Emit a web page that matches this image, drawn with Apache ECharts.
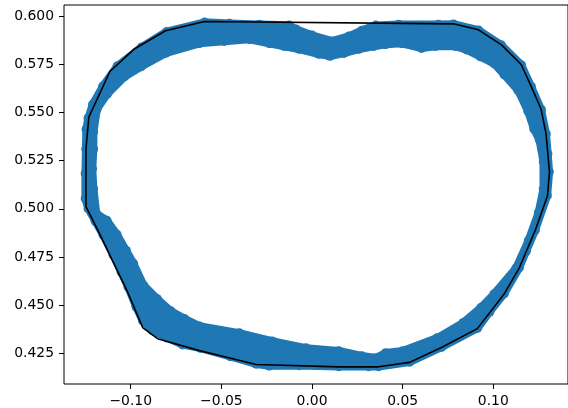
<!DOCTYPE html>
<html>
<head>
<meta charset="utf-8">
<script src="https://cdn.jsdelivr.net/npm/echarts@6/dist/echarts.min.js"></script>
<style>
  html, body { margin: 0; padding: 0; background: #fff; }
  #chart { width: 568px; height: 408px; }
</style>
</head>
<body>
<div id="chart"></div>
<script>
// Outer edge of the point cloud, clockwise from the left side
const outerEdge = [
  [-0.1250,0.5053],[-0.1250,0.5182],[-0.1247,0.5310],[-0.1245,0.5413],[-0.1234,0.5470],
  [-0.1209,0.5542],[-0.1154,0.5635],[-0.1074,0.5740],[-0.0940,0.5838],[-0.0802,0.5918],
  [-0.0593,0.5967],[-0.0456,0.5961],[-0.0291,0.5956],[-0.0126,0.5951],[-0.0088,0.5931],
  [0.0000,0.5900],[0.0110,0.5869],[0.0203,0.5894],[0.0275,0.5925],[0.0352,0.5951],
  [0.0478,0.5956],[0.0698,0.5956],[0.0780,0.5957],[0.0918,0.5926],[0.1044,0.5849],
  [0.1154,0.5746],[0.1209,0.5633],[0.1264,0.5514],[0.1291,0.5388],[0.1300,0.5285],
  [0.1308,0.5192],[0.1297,0.5068],[0.1231,0.4890],[0.1181,0.4780],[0.1143,0.4695],
  [0.1060,0.4561],[0.0980,0.4466],[0.0912,0.4381],[0.0714,0.4283],[0.0538,0.4206],
  [0.0368,0.4183],[0.0313,0.4183],[0.0148,0.4183],[-0.0071,0.4188],[-0.0236,0.4186],
  [-0.0308,0.4196],[-0.0451,0.4235],[-0.0615,0.4278],[-0.0714,0.4296],[-0.0802,0.4332],
  [-0.0879,0.4368],[-0.0934,0.4420],[-0.0970,0.4492],[-0.1014,0.4595],[-0.1052,0.4672],
  [-0.1096,0.4760],[-0.1151,0.4863],[-0.1195,0.4935],[-0.1234,0.5001]
];

// Inner edge of the point cloud, same direction
const innerEdge = [
  [-0.1190,0.4976],[-0.1206,0.5104],[-0.1212,0.5207],[-0.1206,0.5310],[-0.1206,0.5398],
  [-0.1187,0.5516],[-0.1129,0.5596],[-0.1033,0.5686],[-0.0942,0.5738],[-0.0808,0.5807],
  [-0.0621,0.5858],[-0.0484,0.5869],[-0.0346,0.5879],[-0.0236,0.5858],[-0.0154,0.5843],
  [-0.0071,0.5828],[0.0038,0.5802],[0.0099,0.5792],[0.0176,0.5807],[0.0258,0.5828],
  [0.0341,0.5843],[0.0407,0.5853],[0.0495,0.5858],[0.0604,0.5833],[0.0681,0.5843],
  [0.0791,0.5843],[0.0852,0.5825],[0.0929,0.5789],[0.1005,0.5753],[0.1060,0.5696],
  [0.1137,0.5614],[0.1192,0.5506],[0.1225,0.5413],[0.1255,0.5357],[0.1277,0.5243],
  [0.1277,0.5104],[0.1250,0.4981],[0.1195,0.4837],[0.1126,0.4693],[0.1005,0.4559],
  [0.0931,0.4487],[0.0835,0.4410],[0.0690,0.4330],[0.0500,0.4263],[0.0407,0.4253],
  [0.0352,0.4227],[0.0275,0.4237],[0.0148,0.4263],[-0.0033,0.4278],[-0.0220,0.4314],
  [-0.0401,0.4356],[-0.0621,0.4392],[-0.0703,0.4430],[-0.0780,0.4471],[-0.0854,0.4533],
  [-0.0929,0.4603],[-0.0986,0.4718],[-0.1025,0.4783],[-0.1077,0.4868],[-0.1132,0.4940]
];

// Convex hull vertices
const hullPoints = [
  [-0.0808,0.5923],[-0.0593,0.5971],[0.0780,0.5959],[0.0918,0.5928],[0.1044,0.5851],
  [0.1154,0.5748],[0.1209,0.5635],[0.1264,0.5516],[0.1291,0.5388],[0.1310,0.5192],
  [0.1299,0.5068],[0.1231,0.4888],[0.1143,0.4693],[0.1060,0.4559],[0.0912,0.4379],
  [0.0714,0.4281],[0.0538,0.4204],[0.0368,0.4181],[0.0148,0.4181],[-0.0308,0.4193],
  [-0.0621,0.4265],[-0.0852,0.4327],[-0.0934,0.4384],[-0.1022,0.4579],[-0.1181,0.4888],
  [-0.1247,0.5012],[-0.1247,0.5310],[-0.1231,0.5475],[-0.1115,0.5712],[-0.0978,0.5830],
  [-0.0808,0.5923]
];

const xTicks = [-0.10, -0.05, 0.00, 0.05, 0.10];
const yTicks = [0.425, 0.450, 0.475, 0.500, 0.525, 0.550, 0.575, 0.600];

const BLUE = '#1f77b4';
const FONT = 'DejaVu Sans';
const MARKER = 8;   // marker diameter in px

const chart = echarts.init(document.getElementById('chart'), null, { renderer: 'canvas' });

const labelStyle = { color: '#000', fontFamily: FONT, fontSize: 13.9 };

chart.setOption({
  animation: false,
  backgroundColor: '#fff',
  grid: {
    left: 64, top: 5, right: -2, bottom: 21,
    show: true, borderColor: '#000', borderWidth: 1, backgroundColor: 'transparent'
  },
  xAxis: {
    type: 'value', min: -0.13681, max: 0.14121,
    position: 'bottom',
    axisLine: { show: false, onZero: false },
    splitLine: { show: false },
    axisTick: { show: true, length: 5, customValues: xTicks, lineStyle: { color: '#000', width: 1 } },
    axisLabel: Object.assign({
      margin: 10, customValues: xTicks,
      formatter: v => (v < -1e-9 ? '\u2212' : '') + Math.abs(v).toFixed(2)
    }, labelStyle)
  },
  yAxis: {
    type: 'value', min: 0.40920, max: 0.60566,
    position: 'left',
    axisLine: { show: false, onZero: false },
    splitLine: { show: false },
    axisTick: { show: true, length: 5, customValues: yTicks, lineStyle: { color: '#000', width: 1 } },
    axisLabel: Object.assign({
      margin: 10, customValues: yTicks,
      formatter: v => v.toFixed(3)
    }, labelStyle)
  },
  series: [
    {
      // solid body of the ring between the outer and inner edges;
      // strokes as wide as a marker round the edges off like the dots do
      type: 'custom',
      z: 1,
      clip: false,
      silent: true,
      data: [[0.05, 0.5]],
      renderItem: (params, api) => {
        const outerPx = outerEdge.map(p => api.coord(p));
        const innerPx = innerEdge.map(p => api.coord(p));
        return {
          type: 'group',
          children: [
            { type: 'polygon', shape: { points: outerPx },
              style: { fill: BLUE, stroke: BLUE, lineWidth: MARKER, lineJoin: 'round' } },
            { type: 'polygon', shape: { points: innerPx },
              style: { fill: '#fff', stroke: null } },
            { type: 'polygon', shape: { points: innerPx },
              style: { fill: null, stroke: BLUE, lineWidth: MARKER, lineJoin: 'round' } }
          ]
        };
      }
    },
    {
      type: 'scatter',
      z: 2,
      silent: true,
      symbol: 'circle',
      symbolSize: MARKER + 1.5,
      itemStyle: { color: BLUE, opacity: 1 },
      data: outerEdge.concat(innerEdge)
    },
    {
      type: 'line',
      z: 3,
      silent: true,
      showSymbol: false,
      data: hullPoints,
      lineStyle: { color: '#000', width: 1.6 }
    }
  ]
});
</script>
</body>
</html>
